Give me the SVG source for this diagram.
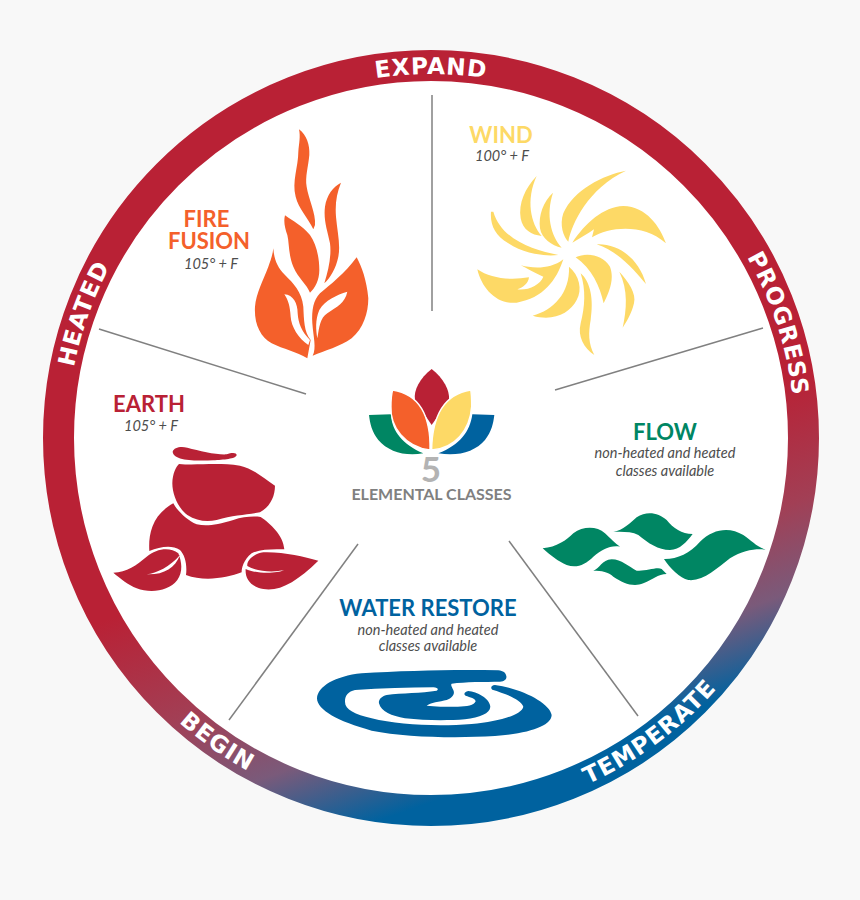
<svg xmlns="http://www.w3.org/2000/svg" width="860" height="900" viewBox="0 0 860 900">
<style>
text{font-family:"Lato","Open Sans","Liberation Sans",sans-serif}
.ring{font-family:"DejaVu Sans","Liberation Sans",sans-serif;fill:#fff;font-weight:700;font-size:23.2px;letter-spacing:1px}
.t{font-weight:700;font-size:22px;text-anchor:middle}
.s{font-style:italic;font-size:14.5px;fill:#4d4d4d;text-anchor:middle}
.d{stroke:#808080;stroke-width:1.5;fill:none}
</style>
<defs>
<linearGradient id="g" gradientUnits="userSpaceOnUse" x1="206" y1="585" x2="299" y2="849">
<stop offset="0" stop-color="#b92135"/><stop offset=".42" stop-color="#a23f55"/><stop offset=".72" stop-color="#7a5a7a"/><stop offset="1" stop-color="#00629f"/>
</linearGradient>
<path id="top" d="M67,438A364,364 0 0 1 795,438"/>
<path id="bot" d="M51,438A380,380 0 0 0 811,438"/>
</defs>
<rect width="860" height="900" fill="#f8f8f8"/>
<g id="ring">
<circle cx="431" cy="438" r="372.5" fill="#fff" stroke="url(#g)" stroke-width="31"/>
<text class="ring"><textPath href="#top" startOffset="50%" text-anchor="middle">EXPAND</textPath></text>
<text class="ring" transform="rotate(71.8 431 438)"><textPath href="#top" startOffset="50%" text-anchor="middle">PROGRESS</textPath></text>
<text class="ring" transform="rotate(-70.3 431 438)"><textPath href="#top" startOffset="50%" text-anchor="middle">HEATED</textPath></text>
<text class="ring" transform="rotate(-36.6 431 438)"><textPath href="#bot" startOffset="50%" text-anchor="middle">TEMPERATE</textPath></text>
<text class="ring" transform="rotate(35.1 431 438)"><textPath href="#bot" startOffset="50%" text-anchor="middle">BEGIN</textPath></text>
</g>
<g id="connectors">
<line class="d" x1="432" y1="95" x2="432" y2="311"/>
<line class="d" x1="99" y1="329" x2="306" y2="394"/>
<line class="d" x1="229" y1="720" x2="358" y2="544"/>
<line class="d" x1="509" y1="541" x2="638" y2="716"/>
<line class="d" x1="763" y1="328" x2="555" y2="390"/>
</g>
<g id="fire">
<g transform="translate(230 110) scale(.3333)" fill="#f4602b">
<path d="M207,58C230,75 240,105 238,135C235,170 225,200 230,230C235,265 258,310 255,345L250,358C235,325 205,295 197,260C185,215 205,170 205,125C207,100 212,80 207,58Z"/>
<path d="M333,218C320,250 315,280 318,320C322,365 332,405 325,440C318,475 300,505 283,520C295,480 305,440 300,400C292,360 280,330 285,290C290,255 310,230 333,218Z"/>
<path d="M165,316C190,335 215,345 240,375C258,400 268,440 268,480C268,510 255,535 240,548C232,525 205,505 190,470C175,435 178,400 172,375C165,355 160,335 165,316Z"/>
<path fill-rule="evenodd" d="M130,415C132,445 140,470 165,495C190,520 215,545 220,590C222,630 222,665 242,690L232,745C200,725 160,718 125,700C90,680 72,640 75,590C78,550 100,510 115,470C122,450 128,435 130,415ZM163,553C175,570 180,590 182,620C184,650 205,685 235,705L240,690C215,665 205,640 203,610C203,580 190,555 163,553Z"/>
<path fill-rule="evenodd" d="M380,442C395,470 410,510 415,565C415,610 400,655 365,685C330,710 285,722 248,737C260,715 250,680 247,640C245,600 250,570 270,550C300,525 345,490 380,442ZM352,545C320,555 285,570 268,600C255,630 258,660 262,685C268,650 270,625 292,610C320,590 345,580 352,545Z"/>
</g>
<text class="t" x="206.5" y="227" fill="#f4602b">FIRE</text>
<text class="t" x="209" y="248.5" fill="#f4602b">FUSION</text>
<text class="s" x="211" y="268.5">105° + F</text>
</g>
<g id="wind">
<g transform="translate(460 160) scale(.3333)" fill="#fdd966">
<path d="M230,48C195,85 175,130 182,175C188,210 215,225 245,228C212,190 197,120 230,48Z"/>
<path d="M279,98C250,125 235,165 240,205C245,235 275,258 305,263C272,225 257,165 279,98Z"/>
<path d="M498,32C430,45 340,90 310,160C298,195 310,230 325,245C335,190 385,85 498,32Z"/>
<path d="M618,250C600,200 560,140 490,138C430,140 375,190 337,248C360,235 385,220 402,208L396,232C450,200 550,190 618,250Z"/>
<path d="M93,155C90,195 105,225 145,250C190,280 250,290 295,285C220,270 125,240 100,155Z"/>
<path d="M410,253C470,250 535,290 558,372C530,340 480,275 410,253Z"/>
<path d="M347,292C380,275 430,285 450,320C465,360 445,400 431,430C420,380 395,325 347,292Z"/>
<path d="M478,335C505,365 530,400 522,430C515,460 500,485 488,503C500,450 505,390 478,335Z"/>
<path d="M362,340C392,365 402,420 392,480C385,520 385,550 403,585C372,565 352,530 362,490C375,440 378,390 362,340Z"/>
<path d="M327,320C358,345 368,390 350,420C330,460 280,485 218,467C280,450 330,400 327,320Z"/>
<path d="M52,328C90,355 150,362 207,352C205,370 190,382 172,388C205,392 240,375 250,350C225,340 200,325 183,316C215,325 270,330 310,298C290,360 250,415 170,428C110,435 65,385 52,328Z"/>
</g>
<text class="t" x="501" y="143" fill="#fdd966">WIND</text>
<text class="s" x="502" y="161">100° + F</text>
</g>
<g id="earth">
<g transform="translate(100 435) scale(.3333)" fill="#b92135">
<path d="M218,50C222,38 240,33 262,38C300,48 350,60 380,58C395,52 410,52 410,60C408,72 370,74 340,76C290,78 220,78 218,50Z"/>
<path d="M237,87C290,92 350,82 420,92C460,100 490,130 525,152C525,185 510,215 480,232C440,240 400,240 350,255C320,262 290,258 262,240C235,220 217,180 217,145C218,115 228,95 237,87Z"/>
<path d="M220,205C230,225 260,255 290,268C320,275 350,270 400,255C430,245 460,243 482,246C510,265 550,300 553,343C520,342 480,342 455,355C430,375 425,400 425,412C380,430 310,440 258,420C262,390 255,360 240,345C215,328 180,335 148,348C145,300 155,240 220,205Z"/>
<path fill-rule="evenodd" d="M40,413C80,412 110,390 140,365C170,340 210,335 235,355C245,380 250,410 232,435C205,470 150,475 110,460C85,450 60,430 40,413ZM140,418C170,415 210,395 240,360C225,400 190,420 140,418Z"/>
<path d="M655,377C610,365 550,350 490,352C455,358 440,380 442,393C470,410 520,413 553,405C530,416 470,417 437,402C435,430 450,455 490,462C540,470 590,440 655,377Z"/>
</g>
<text class="t" x="149" y="412" fill="#b92135">EARTH</text>
<text class="s" x="151" y="430.5">105° + F</text>
</g>
<g id="flow">
<g transform="translate(530 500) scale(.3333)" fill="#008663">
<path d="M38,145C80,142 110,120 130,100C160,78 200,78 225,100C245,118 255,130 270,140C240,135 215,150 190,170C165,195 140,205 110,195C85,185 60,165 38,145Z"/>
<path d="M250,96C280,90 300,70 320,52C350,32 385,38 410,60C430,85 455,102 488,102C470,125 450,150 420,150C385,150 355,130 325,105C305,95 275,95 250,96Z"/>
<path d="M190,212C210,205 215,180 245,178C275,178 295,200 320,212C345,215 380,200 395,207L410,222C385,222 365,240 340,250C310,262 280,250 250,230C235,215 215,212 190,212Z"/>
<path d="M402,177C440,178 480,160 510,125C550,85 600,80 640,105C665,122 680,140 707,149C680,145 640,150 600,175C560,205 520,245 475,240C450,235 420,205 402,177Z"/>
</g>
<text class="t" x="665" y="440" fill="#008663">FLOW</text>
<text class="s" x="665" y="458">non-heated and heated</text>
<text class="s" x="665" y="476">classes available</text>
</g>
<g id="water">
<path transform="translate(305 660) scale(.3333)" fill="#00629f" d="M395,92C350,100 290,98 245,105C228,110 220,120 222,130C228,155 260,168 300,175C360,182 430,182 480,178C525,172 555,160 556,140C555,115 515,95 490,93C478,95 475,103 482,107C495,112 512,115 512,124C508,137 480,141 450,140C420,140 390,140 365,137C375,128 405,125 425,120C445,112 450,100 445,90C442,82 436,76 440,71C480,65 540,66 585,65C600,64 606,56 604,48C602,38 595,33 580,31C450,28 300,32 170,40C90,48 38,80 36,115C36,150 100,185 200,212C300,232 450,235 570,228C680,220 740,195 740,165C735,130 650,85 570,75C558,76 556,85 562,89C600,100 650,120 655,140C650,165 580,185 500,192C400,200 280,195 200,175C150,162 120,150 120,125C120,105 130,95 150,90C230,85 310,82 385,82C398,83 402,88 395,92Z"/>
<text class="t" x="428" y="616" fill="#00629f">WATER RESTORE</text>
<text class="s" x="428" y="635">non-heated and heated</text>
<text class="s" x="428" y="651">classes available</text>
</g>
<g id="center">
<g transform="translate(355 360) scale(.3333)">
<path fill="#b92135" d="M230,27C265,55 285,90 282,120L230,195L180,120C175,90 195,55 230,27Z"/>
<path fill="#008663" d="M42,165L108,163C110,215 145,255 205,280C150,290 100,275 70,240C50,215 45,190 42,165Z"/>
<path fill="#00629f" d="M418,165L352,163C345,215 315,255 250,280C310,290 360,275 390,240C410,215 415,190 418,165Z"/>
<path fill="#f4602b" stroke="#fff" stroke-width="4" d="M113,90C175,100 228,145 225,270C150,260 105,200 108,140C108,115 110,100 113,90Z"/>
<path fill="#fdd966" stroke="#fff" stroke-width="4" d="M347,90C285,100 232,145 230,270C300,265 345,210 350,140C350,115 350,100 347,90Z"/>
</g>
<text x="431" y="482" text-anchor="middle" font-size="35" font-weight="700" fill="#b3b3b3">5</text>
<text x="431.5" y="500" text-anchor="middle" font-size="16" font-weight="700" fill="#808080">ELEMENTAL CLASSES</text>
</g>
</svg>
